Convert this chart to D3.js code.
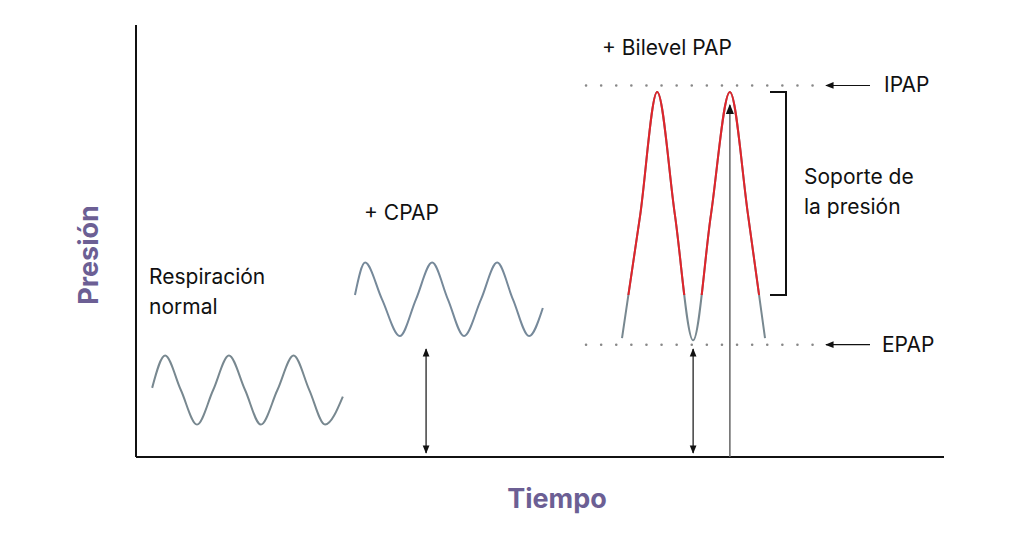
<!DOCTYPE html>
<html><head><meta charset="utf-8">
<script src="https://cdn.jsdelivr.net/npm/d3@7"></script>
<style>body{margin:0;background:#fff}text{font-family:Inter,"Open Sans",sans-serif}</style>
</head><body><div id="chart"></div>
<script>
// waveform key points (time, pressure)
var normalT = [0.40,0.72,1.11,1.51,1.91,2.30,2.70,3.09,3.50,3.90,4.29,4.68,5.12];
var normalP = [3.2,4.7,3.1,1.5,3.1,4.7,3.1,1.5,3.1,4.7,3.1,1.5,2.8];
var cpapT = [5.42,5.67,6.09,6.53,6.93,7.33,7.72,8.12,8.54,8.94,9.33,9.73,10.07];
var cpapP = [7.5,9.0,7.3,5.6,7.3,9.0,7.3,5.6,7.3,9.0,7.3,5.6,6.9];
var bipapT = [12.03,12.48,12.90,13.34,13.79,14.23,14.70,15.15,15.57];
var bipapP = [5.5,11.2,16.9,11.2,5.4,11.2,16.9,11.2,5.5];
var ipap = 17.2, epap = 5.2, supportLow = 7.5;

var width = 1024, height = 536;
var svg = d3.select("#chart").append("svg").attr("width", width).attr("height", height);
var x = d3.scaleLinear().domain([0, 20]).range([136, 944]);
var y = d3.scaleLinear().domain([0, 20]).range([457, 25]);

var defs = svg.append("defs");
defs.append("marker").attr("id", "ah").attr("viewBox", "0 0 10 10").attr("refX", 9).attr("refY", 5)
    .attr("markerWidth", 7).attr("markerHeight", 7).attr("orient", "auto-start-reverse")
    .append("path").attr("d", "M0,1L10,5L0,9z").attr("fill", "#111");
defs.append("clipPath").attr("id", "redclip").append("rect")
    .attr("x", 0).attr("y", 0).attr("width", width).attr("height", y(supportLow));

// axes
svg.append("line").attr("x1", x(0)).attr("x2", x(0)).attr("y1", y(20)).attr("y2", y(0)).attr("stroke", "#111").attr("stroke-width", 2);
svg.append("line").attr("x1", x(0)).attr("x2", x(20)).attr("y1", y(0)).attr("y2", y(0)).attr("stroke", "#111").attr("stroke-width", 2);
svg.append("text").attr("x", 557).attr("y", 508).attr("text-anchor", "middle").attr("font-size", 27).attr("font-weight", 700).attr("fill", "#6c5f94").text("Tiempo");
svg.append("text").attr("transform", "translate(98,255) rotate(-90)").attr("text-anchor", "middle").attr("font-size", 27).attr("font-weight", 700).attr("fill", "#6c5f94").text("Presión");

var line = d3.line().x(d => x(d[0])).y(d => y(d[1])).curve(d3.curveMonotoneX);
function wave(T, P) { return d3.zip(T, P); }

svg.append("path").attr("d", line(wave(normalT, normalP))).attr("fill", "none").attr("stroke", "#788890").attr("stroke-width", 2);
svg.append("path").attr("d", line(wave(cpapT, cpapP))).attr("fill", "none").attr("stroke", "#76899a").attr("stroke-width", 2);
svg.append("path").attr("d", line(wave(bipapT, bipapP))).attr("fill", "none").attr("stroke", "#788890").attr("stroke-width", 2);
svg.append("path").attr("d", line(wave(bipapT, bipapP))).attr("fill", "none").attr("stroke", "#e0242a").attr("stroke-width", 2).attr("clip-path", "url(#redclip)");

// dotted reference lines
[ipap, epap].forEach(function (v) {
    svg.append("line").attr("x1", 586).attr("x2", 814).attr("y1", y(v)).attr("y2", y(v))
        .attr("stroke", "#888").attr("stroke-width", 2.5).attr("stroke-linecap", "round").attr("stroke-dasharray", "0.1 15");
    svg.append("line").attr("x1", 870).attr("x2", 826).attr("y1", y(v)).attr("y2", y(v))
        .attr("stroke", "#111").attr("stroke-width", 1.2).attr("marker-end", "url(#ah)");
});
svg.append("text").attr("x", 884).attr("y", y(ipap) + 7).attr("font-size", 21).attr("fill", "#111").text("IPAP");
svg.append("text").attr("x", 882).attr("y", y(epap) + 7).attr("font-size", 21).attr("fill", "#111").text("EPAP");

// bracket for pressure support
svg.append("path").attr("d", "M770," + y(16.9) + "H786V" + y(supportLow) + "H770").attr("fill", "none").attr("stroke", "#111").attr("stroke-width", 2);
svg.append("text").attr("x", 804).attr("y", 184).attr("font-size", 21).attr("fill", "#111").text("Soporte de");
svg.append("text").attr("x", 804).attr("y", 214).attr("font-size", 21).attr("fill", "#111").text("la presión");

// vertical arrows
[[x(7.18), 5.0], [x(13.79), 5.0]].forEach(function (a) {
    svg.append("line").attr("x1", a[0]).attr("x2", a[0]).attr("y1", y(a[1])).attr("y2", y(0) - 4)
        .attr("stroke", "#111").attr("stroke-width", 1.2).attr("marker-start", "url(#ah)").attr("marker-end", "url(#ah)");
});
svg.append("line").attr("x1", x(14.7)).attr("x2", x(14.7)).attr("y1", y(0)).attr("y2", y(16.3))
    .attr("stroke", "#666").attr("stroke-width", 1.5).attr("marker-end", "url(#ah)");

// labels
svg.append("text").attr("x", 149).attr("y", 284).attr("font-size", 21).attr("fill", "#111").text("Respiración");
svg.append("text").attr("x", 149).attr("y", 314).attr("font-size", 21).attr("fill", "#111").text("normal");
svg.append("text").attr("x", 364).attr("y", 220).attr("font-size", 21).attr("fill", "#111").text("+  CPAP");
svg.append("text").attr("x", 602).attr("y", 55).attr("font-size", 21).attr("fill", "#111").text("+  Bilevel PAP");
</script></body></html>
